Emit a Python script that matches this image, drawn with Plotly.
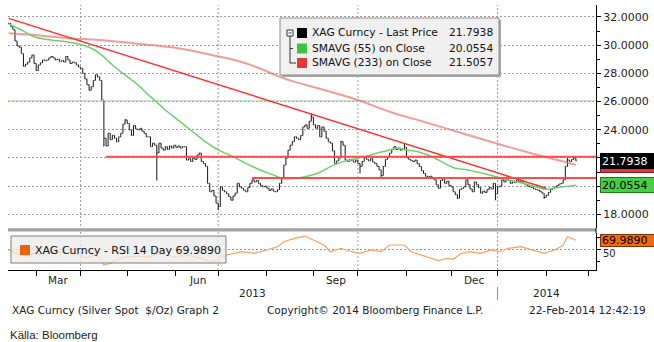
import pandas as pd
import plotly.graph_objects as go

# ---------------- data ----------------
START, END = "2013-02-12", "2014-02-21"
AXIS_END = "2014-03-07"

CLOSE = [
    31.55, 31.30, 31.10, 30.30, 29.95, 29.85, 29.40, 28.50, 28.65, 28.80,
    29.10, 29.30, 28.70, 28.20, 28.60, 28.75, 28.95, 28.90, 28.95, 29.10,
    29.20, 29.10, 28.95, 29.00, 28.85, 28.90, 28.80, 29.20, 28.95, 28.70,
    28.80, 28.75, 28.60, 28.45, 28.35, 28.00, 27.60, 27.20, 26.80, 27.05,
    27.50, 27.90, 27.75, 27.50, 26.10, 23.40, 22.85, 23.75, 23.30, 23.60,
    23.40, 23.15, 23.50, 23.75, 24.40, 24.70, 24.45, 24.00, 23.60, 24.30,
    24.05, 24.00, 24.10, 23.90, 23.75, 23.50, 23.50, 22.80, 23.05, 22.90,
    22.35, 23.05, 22.70, 22.55, 22.80, 22.60, 22.85, 22.70, 22.90, 22.75,
    22.85, 22.70, 22.80, 22.80, 21.85, 21.95, 21.75, 22.00, 21.90, 22.20,
    22.35, 21.75, 21.60, 21.40, 20.20, 19.60, 19.70, 19.30, 18.80, 18.55,
    19.95, 19.70, 19.60, 19.45, 19.25, 19.00, 19.30, 19.50, 20.20, 19.95,
    19.85, 19.70, 19.60, 19.90, 20.20, 20.45, 20.30, 20.40, 20.20, 20.05,
    19.95, 20.00, 19.85, 19.70, 19.80, 19.65, 19.60, 19.75, 20.20, 20.55,
    21.50, 22.00, 22.55, 22.90, 23.15, 23.50, 23.40, 23.30, 23.60, 24.20,
    24.35, 24.10, 24.60, 24.90, 24.35, 24.10, 24.30, 23.50, 24.20, 23.90,
    23.40, 23.15, 23.05, 22.50, 21.60, 21.80, 22.00, 23.15, 22.90, 21.85,
    21.75, 21.90, 21.80, 21.70, 21.85, 21.60, 21.40, 21.75, 22.10, 21.90,
    21.80, 21.95, 21.70, 21.60, 21.40, 21.15, 20.75, 21.40, 21.90, 22.10,
    22.35, 22.60, 22.80, 22.60, 22.70, 22.55, 22.60, 22.75, 22.00, 21.90,
    21.80, 21.75, 21.85, 21.60, 21.40, 21.10, 20.90, 20.70, 20.65, 20.70,
    20.55, 20.45, 20.10, 19.85, 20.40, 20.55, 20.20, 20.35, 20.05, 19.95,
    19.60, 19.40, 19.15, 19.75, 19.85, 19.95, 20.45, 20.10, 19.80, 19.60,
    20.30, 20.10, 19.90, 19.50, 19.65, 19.55, 19.75, 19.90, 19.80, 20.20,
    19.45, 19.95, 20.00, 20.45, 20.30, 20.65, 20.40, 20.20, 20.35, 20.25,
    20.45, 20.30, 20.40, 20.20, 20.10, 20.00, 19.95, 19.90, 19.80, 19.75,
    19.70, 19.60, 19.50, 19.20, 19.35, 19.55, 19.75, 19.85, 19.95, 20.05,
    20.15, 20.20, 20.45, 21.40, 21.85, 21.75, 21.90, 22.00, 21.7938,
]
# intraday extremes beyond the open/close span (trading-day index -> price)
WICK_HIGH = {55: 24.75, 143: 25.15, 157: 23.20, 187: 23.05, 264: 22.00, 267: 22.10}
WICK_LOW = {45: 22.80, 70: 20.40, 99: 18.30, 166: 20.90, 176: 20.65,
            212: 19.10, 230: 19.00, 253: 19.10}

SMA55_DAY = [0, 6, 12, 20, 28, 34, 39, 43, 50, 56, 62, 66, 69, 74, 80, 87, 93, 99,
             106, 112, 118, 125, 129, 134, 139, 146, 152, 158, 165, 171, 177, 184,
             188, 193, 198, 203, 206, 211, 217, 224, 230, 236, 243, 249, 254, 257,
             262, 266, 268]
SMA55_VAL = [31.50, 31.08, 30.60, 30.37, 30.22, 30.05, 29.78, 29.42, 28.47, 27.77,
             27.06, 26.47, 26.10, 25.40, 24.70, 23.86, 23.16, 22.57, 22.09, 21.62,
             21.20, 20.80, 20.56, 20.54, 20.63, 20.91, 21.38, 21.74, 21.98, 22.21,
             22.45, 22.69, 22.57, 22.45, 22.21, 21.86, 21.62, 21.27, 21.15, 20.91,
             20.67, 20.44, 20.20, 19.96, 19.78, 19.85, 19.96, 20.02, 20.0554]

SMA233_DAY = [0, 12, 28, 43, 67, 80, 96, 112, 128, 133, 149, 165, 180, 196, 204,
              217, 233, 249, 265, 268]
SMA233_VAL = [30.84, 30.72, 30.49, 30.37, 30.01, 29.78, 29.30, 28.72, 27.77, 27.50,
              26.82, 26.11, 25.28, 24.57, 24.22, 23.63, 22.92, 22.25, 21.63, 21.5057]

RSI_DAY = [0, 4, 9, 12, 17, 21, 28, 34, 37, 40, 43, 45, 48, 51, 56, 59, 66, 72, 78,
           84, 91, 95, 99, 103, 110, 116, 122, 127, 130, 135, 140, 144, 149, 152,
           157, 162, 166, 171, 176, 180, 187, 190, 195, 199, 203, 207, 210, 214,
           218, 223, 228, 232, 236, 242, 248, 253, 258, 262, 264, 266, 268]
RSI_VAL = [49.4, 42.0, 36.6, 42.3, 38.7, 45.7, 42.0, 38.7, 31.7, 42.3, 31.7, 17.4,
           21.0, 28.1, 35.1, 36.6, 35.0, 42.3, 35.0, 38.7, 31.7, 24.5, 28.0, 38.7,
           45.7, 42.3, 49.4, 56.4, 67.0, 74.2, 79.0, 70.6, 60.0, 45.7, 53.0, 45.7,
           42.3, 49.4, 45.7, 60.0, 60.0, 45.7, 38.7, 31.7, 26.6, 31.7, 29.5, 42.3,
           45.7, 42.3, 49.4, 45.7, 53.0, 56.4, 49.4, 42.3, 49.4, 60.0, 77.7, 74.3,
           69.989]

TREND_DAY = [0, 254]
TREND_VAL = [31.90, 19.85]
RES_FROM, RES_LEVEL = 46, 22.08
SUP_FROM, SUP_LEVEL = 115, 20.58
GREEN_LEVEL = 26.05

LAST_PRICE = 21.7938
LAST_SMA55 = 20.0554
LAST_SMA233 = 21.5057
LAST_RSI = 69.9890

PRICE_RANGE = [17.03, 32.85]
PRICE_TICKS = [18, 20, 22, 24, 26, 28, 30, 32]
COVERED_TICKS = {20, 22}          # labels sitting under the last-value tags
RSI_RANGE = [6.8, 85.5]
X_RANGE = [-0.3, 277.5]
MONTH_LABELS = {3: "Mar", 6: "Jun", 9: "Sep", 12: "Dec"}

# ---------------- derived series ----------------
dates = pd.bdate_range(START, END)
day = list(range(len(dates)))
opens = [CLOSE[0]] + CLOSE[:-1]
highs = [max(o, c, WICK_HIGH.get(i, c)) for i, (o, c) in enumerate(zip(opens, CLOSE))]
lows = [min(o, c, WICK_LOW.get(i, c)) for i, (o, c) in enumerate(zip(opens, CLOSE))]

axis_days = pd.bdate_range(START, AXIS_END)
month_starts = [i for i in range(1, len(axis_days))
                if axis_days[i].month != axis_days[i - 1].month]
quarter_starts = [i for i in month_starts if axis_days[i].month in (1, 4, 7, 10)]
year_start = [i for i in month_starts if axis_days[i].month == 1][0]

# ---------------- geometry helpers ----------------
W, H = 654, 342
ML, MR, MT, MB = 8, 58, 5, 72
PW, PH = W - ML - MR, H - MT - MB
FONT = "DejaVu Sans"


def px(x):
    return (x - ML) / PW


def py(y):
    return (H - MB - y) / PH


fig = go.Figure()

# price bars
fig.add_trace(go.Ohlc(
    x=day, open=opens, high=highs, low=lows, close=CLOSE,
    xaxis="x2", yaxis="y",
    increasing=dict(line=dict(color="#151515", width=1)),
    decreasing=dict(line=dict(color="#151515", width=1)),
    tickwidth=0.4, hoverinfo="skip", showlegend=False,
))

line_kw = dict(xaxis="x2", yaxis="y", mode="lines", hoverinfo="skip", showlegend=False)
fig.add_trace(go.Scatter(x=[X_RANGE[0], X_RANGE[1]], y=[GREEN_LEVEL] * 2,
                         line=dict(color="#a9d4a9", width=1), **line_kw))
fig.add_trace(go.Scatter(x=SMA233_DAY, y=SMA233_VAL,
                         line=dict(color="rgba(236,112,112,0.7)", width=2, shape="spline"),
                         **line_kw))
fig.add_trace(go.Scatter(x=SMA55_DAY, y=SMA55_VAL,
                         line=dict(color="#6fcf6f", width=1.5, shape="spline"), **line_kw))
fig.add_trace(go.Scatter(x=TREND_DAY, y=TREND_VAL,
                         line=dict(color="#ff2d2d", width=1.5), **line_kw))
fig.add_trace(go.Scatter(x=[RES_FROM, X_RANGE[1]], y=[RES_LEVEL] * 2,
                         line=dict(color="#ff4a4a", width=2), **line_kw))
fig.add_trace(go.Scatter(x=[SUP_FROM, X_RANGE[1]], y=[SUP_LEVEL] * 2,
                         line=dict(color="#ff4a4a", width=2), **line_kw))

# RSI
fig.add_trace(go.Scatter(x=RSI_DAY, y=RSI_VAL, xaxis="x", yaxis="y2", mode="lines",
                         line=dict(color="#f5a062", width=1.2), hoverinfo="skip",
                         showlegend=False))

# arrow-shaped major ticks on the right-hand scale
fig.add_trace(go.Scatter(x=[X_RANGE[1] + 1.3] * len(PRICE_TICKS), y=PRICE_TICKS,
                         xaxis="x2", yaxis="y", mode="markers", cliponaxis=False,
                         marker=dict(symbol="triangle-right", size=6, color="#000"),
                         hoverinfo="skip", showlegend=False))
fig.add_trace(go.Scatter(x=[X_RANGE[1] + 1.3], y=[50], xaxis="x", yaxis="y2",
                         mode="markers", cliponaxis=False,
                         marker=dict(symbol="triangle-right", size=6, color="#000"),
                         hoverinfo="skip", showlegend=False))

# last-value tags: (value, axis, fill, edge, text colour, text shown, box height)
tags = [
    (LAST_SMA233, "y", "#e03a3a", "#8a1a1a", "#000000", False, 12),
    (LAST_PRICE, "y", "#000000", "#000000", "#ffffff", True, 12),
    (LAST_SMA55, "y", "#45cf45", "#1f7a1f", "#000000", True, 12),
    (LAST_RSI, "y2", "#f06a12", "#7a3300", "#000000", True, 9),
]
for val, yax, fill, edge, _, _, hgt in tags:
    fig.add_trace(go.Scatter(x=[X_RANGE[1] + 1.9], y=[val],
                             xaxis="x2" if yax == "y" else "x", yaxis=yax,
                             mode="markers", cliponaxis=False,
                             marker=dict(symbol="triangle-left", size=hgt, color=fill,
                                         line=dict(color=edge, width=1)),
                             hoverinfo="skip", showlegend=False))

annotations = []
for val, yax, fill, edge, txt, shown, hgt in tags:
    annotations.append(dict(
        x=px(600), xref="paper", y=val, yref=yax, xanchor="left", yanchor="middle",
        text=f"{val:.4f}" if shown else "\u00a0",
        showarrow=False, bgcolor=fill, bordercolor=edge,
        borderwidth=1, borderpad=1, width=52, height=hgt, align="left",
        font=dict(family=FONT, size=11, color=txt),
    ))

# month and year labels
for a, b in zip(month_starts[:-1], month_starts[1:]):
    m = axis_days[a].month
    if m in MONTH_LABELS:
        annotations.append(dict(x=(a + b) / 2, xref="x", y=py(280), yref="paper",
                                text=MONTH_LABELS[m], showarrow=False,
                                xanchor="center", yanchor="middle",
                                font=dict(family=FONT, size=10.5, color="#222")))
for label, xa, xb in [("2013", X_RANGE[0], year_start), ("2014", year_start, X_RANGE[1])]:
    annotations.append(dict(x=(xa + xb) / 2, xref="x", y=py(293), yref="paper",
                            text=label, showarrow=False, xanchor="center",
                            yanchor="middle",
                            font=dict(family=FONT, size=10.5, color="#222")))

# top legend box
rows = [("XAG Curncy - Last Price", LAST_PRICE, "#000000"),
        ("SMAVG (55) on Close", LAST_SMA55, "#3cc43c"),
        ("SMAVG (233) on Close", LAST_SMA233, "#e03a3a")]
row_y = [33, 48.5, 63]
shapes = []
shapes.append(dict(type="rect", xref="paper", yref="paper", x0=px(282), x1=px(501),
                   y0=py(77), y1=py(20), fillcolor="#a8a8a8", line=dict(width=0)))
shapes.append(dict(type="rect", xref="paper", yref="paper", x0=px(280), x1=px(499),
                   y0=py(75), y1=py(18), fillcolor="#f0f0f0",
                   line=dict(color="#8a8a8a", width=1)))
for (name, val, col), ry in zip(rows, row_y):
    shapes.append(dict(type="rect", xref="paper", yref="paper", x0=px(297), x1=px(307),
                       y0=py(ry + 5), y1=py(ry - 5), fillcolor=col, line=dict(width=0)))
    annotations.append(dict(x=px(310), y=py(ry), xref="paper", yref="paper", text=name,
                            xanchor="left", yanchor="middle", showarrow=False,
                            font=dict(family=FONT, size=10.7, color="#111")))
    annotations.append(dict(x=px(495), y=py(ry), xref="paper", yref="paper",
                            text=f"{val:.4f}", xanchor="right", yanchor="middle",
                            showarrow=False,
                            font=dict(family=FONT, size=10.7, color="#111")))
# tree connector
tree = dict(color="#333", width=1)
shapes += [
    dict(type="rect", xref="paper", yref="paper", x0=px(287), x1=px(293),
         y0=py(36), y1=py(30), line=tree, fillcolor="#ffffff"),
    dict(type="line", xref="paper", yref="paper", x0=px(288.5), x1=px(291.5),
         y0=py(33), y1=py(33), line=tree),
    dict(type="line", xref="paper", yref="paper", x0=px(290), x1=px(290),
         y0=py(36), y1=py(63), line=tree),
    dict(type="line", xref="paper", yref="paper", x0=px(290), x1=px(296),
         y0=py(63), y1=py(63), line=tree),
    dict(type="line", xref="paper", yref="paper", x0=px(290), x1=px(293),
         y0=py(48.5), y1=py(48.5), line=tree),
]

# RSI legend box
shapes.append(dict(type="rect", xref="paper", yref="paper", x0=px(11), x1=px(226),
                   y0=py(263), y1=py(236), fillcolor="rgba(236,236,236,0.78)",
                   line=dict(color="#7f7f7f", width=1)))
shapes.append(dict(type="rect", xref="paper", yref="paper", x0=px(20), x1=px(30),
                   y0=py(255), y1=py(245), fillcolor="#f06010", line=dict(width=0)))
annotations.append(dict(x=px(33), y=py(250), xref="paper", yref="paper",
                        text=f"XAG Curncy - RSI 14 Day {LAST_RSI:.4f}",
                        xanchor="left", yanchor="middle", showarrow=False,
                        font=dict(family=FONT, size=11, color="#111")))

# panel separator, quarter gridlines, year divider
shapes.append(dict(type="rect", xref="paper", yref="paper", x0=0, x1=1,
                   y0=py(231.5), y1=py(228.3), fillcolor="#a3a3a3", line=dict(width=0)))
shapes.append(dict(type="line", xref="paper", yref="paper", x0=1, x1=1,
                   y0=py(233), y1=py(228), line=dict(color="#000", width=1)))
for q in quarter_starts:
    shapes.append(dict(type="line", xref="x", yref="paper", x0=q, x1=q, y0=0, y1=1,
                       line=dict(color="#9a9a9a", width=1, dash="2px,2px"),
                       layer="below"))
shapes.append(dict(type="line", xref="x", yref="paper", x0=year_start, x1=year_start,
                   y0=py(287), y1=py(300), line=dict(color="#8a8a8a", width=1)))

# footer
foot = dict(family=FONT, size=10.5, color="#222")
annotations += [
    dict(x=px(10), y=py(310), xref="paper", yref="paper",
         text="XAG Curncy (Silver Spot \u00a0$/Oz) Graph 2", xanchor="left",
         yanchor="middle", showarrow=False, font=foot),
    dict(x=px(265), y=py(310), xref="paper", yref="paper",
         text="Copyright\u00a9 2014 Bloomberg Finance L.P.", xanchor="left",
         yanchor="middle", showarrow=False, font=foot),
    dict(x=px(648), y=py(310), xref="paper", yref="paper",
         text="22-Feb-2014 12:42:19", xanchor="right", yanchor="middle",
         showarrow=False, font=foot),
    dict(x=px(8), y=py(335), xref="paper", yref="paper", text="Källa: Bloomberg",
         xanchor="left", yanchor="middle", showarrow=False,
         font=dict(family="Liberation Sans", size=11.5, color="#222")),
]

grid = dict(showgrid=True, gridcolor="#9a9a9a", gridwidth=1, griddash="2px,2px")
fig.update_layout(
    width=W, height=H,
    margin=dict(l=ML, r=MR, t=MT, b=MB),
    paper_bgcolor="#ffffff", plot_bgcolor="#ffffff",
    showlegend=False,
    font=dict(family=FONT, size=11, color="#222"),
    xaxis=dict(domain=[0, 1], anchor="y2", range=X_RANGE, tickmode="array",
               tickvals=month_starts, ticks="outside", ticklen=5, tickcolor="#000",
               showticklabels=False, showline=True, linecolor="#000", linewidth=1,
               showgrid=False, zeroline=False, rangeslider=dict(visible=False)),
    xaxis2=dict(domain=[0, 1], anchor="y", matches="x", range=X_RANGE,
                showticklabels=False, ticks="", showline=False, showgrid=False,
                zeroline=False, rangeslider=dict(visible=False)),
    yaxis=dict(domain=[py(228), 1], anchor="x2", side="right", range=PRICE_RANGE,
               tickmode="array", tickvals=PRICE_TICKS,
               ticktext=["" if t in COVERED_TICKS else f"{t:.4f}" for t in PRICE_TICKS],
               ticks="outside", ticklen=4,
               tickcolor="#000", showline=True, linecolor="#000", linewidth=1,
               zeroline=False, tickfont=dict(family=FONT, size=11, color="#222"),
               minor=dict(dtick=1, tick0=0, ticks="outside", ticklen=3,
                          tickcolor="#000", showgrid=False),
               **grid),
    yaxis2=dict(domain=[0, py(233)], anchor="x", side="right", range=RSI_RANGE,
                tickmode="array", tickvals=[50], ticktext=["50"], ticks="outside",
                ticklen=4, tickcolor="#000", showline=True, linecolor="#000",
                linewidth=1, zeroline=False, ticklabelshift=4,
                tickfont=dict(family=FONT, size=10, color="#222"),
                minor=dict(tickvals=[25, 75], ticks="outside", ticklen=3,
                           tickcolor="#000", showgrid=False),
                **grid),
    shapes=shapes,
    annotations=annotations,
)

fig.write_html("out.html")
